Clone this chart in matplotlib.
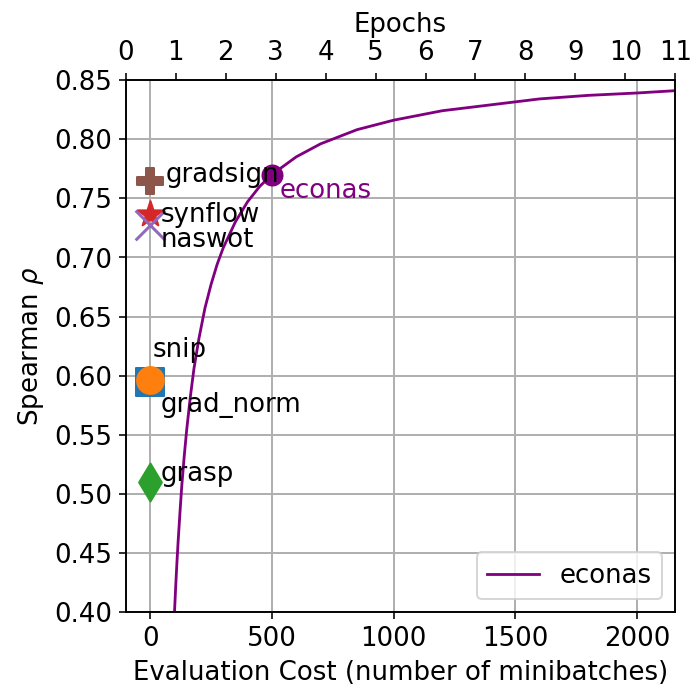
import matplotlib
matplotlib.use("Agg")
import matplotlib.pyplot as plt

plt.rcParams["font.size"] = 13

# econas curve (minibatches -> spearman rho)
curve_cost = [100, 105, 110, 115, 123, 130, 140, 150, 165, 180, 200, 225, 250, 275, 300,
              350, 400, 450, 500, 600, 700, 850, 1000, 1200, 1400, 1600, 1800, 2000, 2160]
curve_rho = [0.400, 0.422, 0.442, 0.460, 0.486, 0.507, 0.532, 0.554, 0.582, 0.606, 0.631,
             0.657, 0.677, 0.694, 0.708, 0.730, 0.747, 0.760, 0.770, 0.785, 0.796, 0.808,
             0.816, 0.824, 0.829, 0.834, 0.837, 0.839, 0.841]

# zero-cost proxies
proxy_names = ["gradsign", "synflow", "naswot", "snip", "grad_norm", "grasp"]
proxy_cost = [0, 0, 0, 0, 0, 0]
proxy_rho = [0.765, 0.737, 0.727, 0.595, 0.596, 0.510]
proxy_markers = ["P", "*", "x", "s", "o", "d"]
proxy_colors = ["tab:brown", "tab:red", "tab:purple", "tab:blue", "tab:orange", "tab:green"]
proxy_sizes = [180, 180, 220, 200, 180, 180]
label_pos = [(65, 0.770), (45, 0.736), (45, 0.715), (12, 0.622), (45, 0.575), (45, 0.517)]

econas_cost = 500
econas_rho = 0.770

fig = plt.figure(figsize=(4.8, 4.8), dpi=144)
ax = fig.add_axes([0.182, 0.114, 0.795, 0.77])

line, = ax.plot(curve_cost, curve_rho, color="purple", lw=1.4, label="econas")
ax.scatter([econas_cost], [econas_rho], color="purple", s=100, zorder=3)
ax.text(533, 0.756, "econas", color="purple", va="center", ha="left")

for i, name in enumerate(proxy_names):
    ax.scatter([proxy_cost[i]], [proxy_rho[i]], marker=proxy_markers[i],
               color=proxy_colors[i], s=proxy_sizes[i], zorder=3)
    ax.text(label_pos[i][0], label_pos[i][1], name, va="center", ha="left", zorder=4)

ax.set_xlim(-100, 2157)
ax.set_ylim(0.40, 0.85)
ax.set_xticks([0, 500, 1000, 1500, 2000])
ax.set_yticks([0.40, 0.45, 0.50, 0.55, 0.60, 0.65, 0.70, 0.75, 0.80, 0.85])
ax.grid(True, color="#b0b0b0", lw=1.0)
ax.set_xlabel("Evaluation Cost (number of minibatches)")
ax.set_ylabel(r"Spearman $\rho$")
ax.legend(handles=[line], loc="lower right")

ax2 = ax.twiny()
ax2.set_xlim(0, 11)
ax2.set_xticks(range(0, 12))
ax2.set_xlabel("Epochs")

fig.savefig("out.png", dpi=144)
